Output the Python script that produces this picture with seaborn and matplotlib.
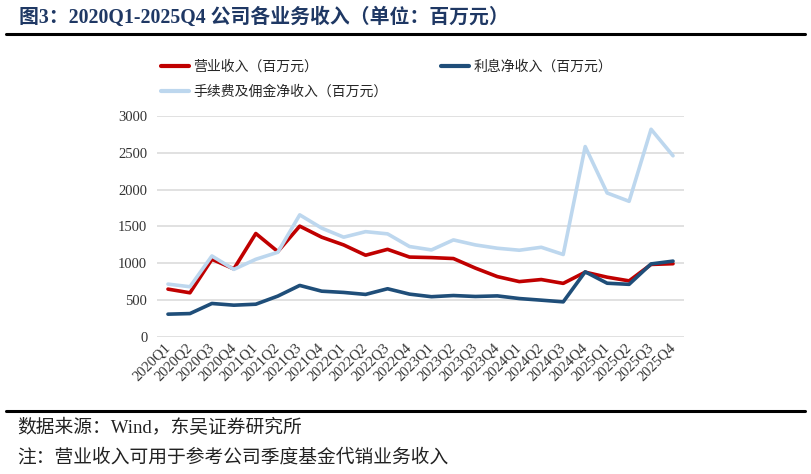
import pandas as pd
import matplotlib
matplotlib.use("Agg")
import matplotlib.pyplot as plt
import seaborn as sns
from matplotlib.lines import Line2D

# quarterly data, million yuan
quarters = ["2020Q1", "2020Q2", "2020Q3", "2020Q4",
            "2021Q1", "2021Q2", "2021Q3", "2021Q4",
            "2022Q1", "2022Q2", "2022Q3", "2022Q4",
            "2023Q1", "2023Q2", "2023Q3", "2023Q4",
            "2024Q1", "2024Q2", "2024Q3", "2024Q4",
            "2025Q1", "2025Q2", "2025Q3", "2025Q4"]
revenue = [650, 600, 1055, 925, 1405, 1160, 1505, 1355, 1250, 1110, 1190, 1085,
           1078, 1065, 935, 820, 752, 780, 728, 880, 812, 762, 985, 995]
interest = [310, 318, 455, 432, 445, 555, 700, 622, 605, 578, 655, 582,
            547, 563, 550, 558, 522, 500, 477, 885, 730, 715, 992, 1030]
fee = [718, 682, 1100, 918, 1055, 1150, 1658, 1478, 1355, 1430, 1400, 1228,
       1182, 1318, 1250, 1205, 1178, 1218, 1120, 2585, 1955, 1842, 2820, 2460]

names = ["营业收入（百万元）", "利息净收入（百万元）", "手续费及佣金净收入（百万元）"]
colors = ["#C00000", "#1F4E79", "#BDD7EE"]

df = pd.DataFrame({
    "idx": list(range(len(quarters))) * 3,
    "value": revenue + interest + fee,
    "series": [names[0]] * len(revenue) + [names[1]] * len(interest) + [names[2]] * len(fee),
})

sns.set_theme(style="white")
plt.rcParams["font.family"] = ["Liberation Serif", "Noto Sans CJK SC"]

fig = plt.figure(figsize=(8.11, 4.74), dpi=100)
ax = fig.add_axes([157 / 811, 1 - 337 / 474, (684 - 157) / 811, (337 - 116) / 474])

sns.lineplot(data=df, x="idx", y="value", hue="series", hue_order=names,
             palette=colors, linewidth=2.6, legend=False, ax=ax,
             solid_joinstyle="round", solid_capstyle="round")

ax.set_xlim(-0.5, 23.5)
ax.set_ylim(0, 3000)
ax.set_yticks(range(0, 3001, 500))
ax.set_xticks(range(len(quarters)))
ax.set_xticklabels(quarters, rotation=45, ha="right", va="center",
                   rotation_mode="anchor", fontsize=10.5, color="#333333")
ax.tick_params(axis="y", labelsize=10.5, labelcolor="#333333", length=0, pad=7)
ax.tick_params(axis="x", length=0, pad=6)
ax.set_xlabel("")
ax.set_ylabel("")
ax.yaxis.grid(True, color="#D9D9D9", linewidth=1.1)
ax.xaxis.grid(False)
ax.set_axisbelow(True)
for s in ax.spines.values():
    s.set_visible(False)

# legend, row-major order
handles = [Line2D([0], [0], color=c, lw=3) for c in colors]
order = [0, 2, 1]
fig.legend([handles[i] for i in order], [names[i] for i in order],
           loc="upper left", bbox_to_anchor=(161 / 811, 1 - 60 / 474),
           ncol=2, frameon=False, fontsize=10, handlelength=2.0,
           handletextpad=0.3, columnspacing=3.9, labelspacing=0.85,
           borderpad=0, borderaxespad=0)

# title and footer
fig.text(19 / 811, 1 - 18 / 474, "图3：2020Q1-2025Q4 公司各业务收入（单位：百万元）",
         fontsize=14.3, fontweight="bold", color="#1F3864", va="center", ha="left")
fig.add_artist(Line2D([6 / 811, 805 / 811], [1 - 34 / 474] * 2, color="black", lw=2.2))
fig.add_artist(Line2D([6 / 811, 805 / 811], [1 - 411 / 474] * 2, color="black", lw=2.2))
fig.text(17 / 811, 1 - 428 / 474, "数据来源：Wind，东吴证券研究所",
         fontsize=13.5, color="#222222", va="center", ha="left")
fig.text(17 / 811, 1 - 458 / 474, "注：营业收入可用于参考公司季度基金代销业务收入",
         fontsize=13.5, color="#222222", va="center", ha="left")

fig.savefig("out.png", dpi=100)
